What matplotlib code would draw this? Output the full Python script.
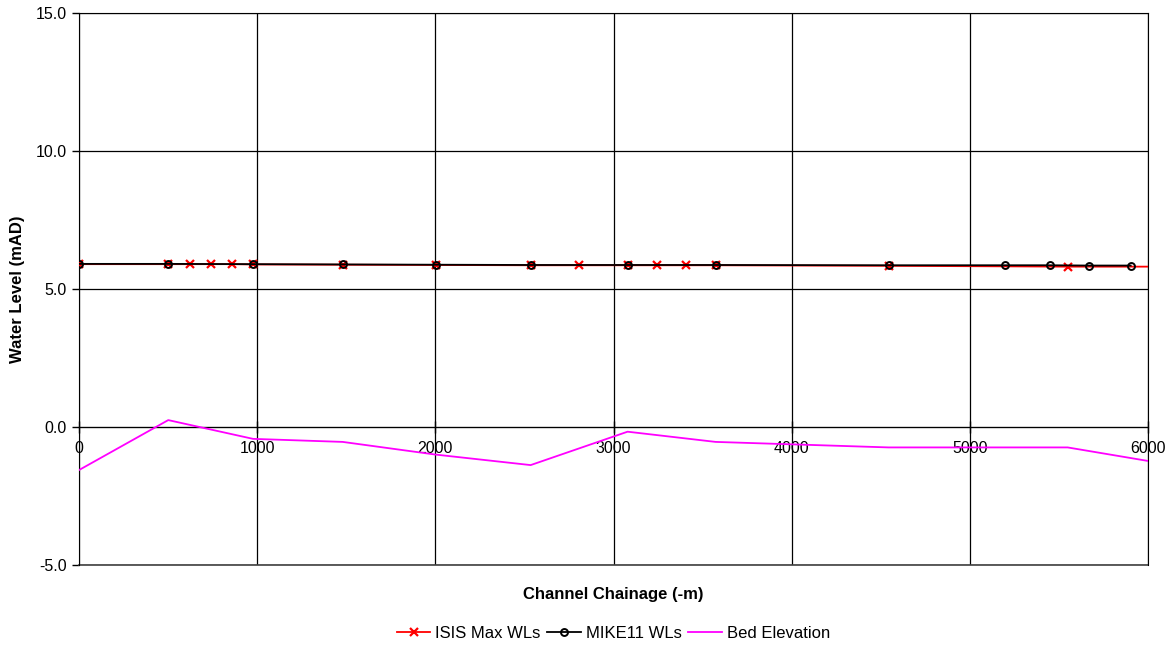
import matplotlib
matplotlib.use('Agg')
import matplotlib.pyplot as plt
from matplotlib.ticker import FormatStrFormatter

plt.rcParams['font.family'] = ['Liberation Sans', 'DejaVu Sans']

# long section data (chainage in m, levels in mAD)
isis_ch = [0, 501, 623, 741, 859, 977, 1480, 2002, 2535, 2808, 3079,
           3244, 3409, 3573, 4544, 5549, 6100]
isis_wl = [5.90, 5.90, 5.90, 5.90, 5.90, 5.89, 5.88, 5.87, 5.86, 5.86, 5.86,
           5.86, 5.86, 5.86, 5.84, 5.81, 5.81]

mike_ch = [0, 501, 977, 1480, 2002, 2535, 3079, 3573, 4544, 5195, 5448,
           5667, 5903]
mike_wl = [5.91, 5.91, 5.90, 5.89, 5.88, 5.87, 5.87, 5.87, 5.86, 5.86, 5.86,
           5.85, 5.85]

bed_ch = [0, 501, 977, 1480, 2002, 2535, 3079, 3573, 4544, 5549, 6000]
bed_z = [-1.56, 0.25, -0.43, -0.54, -1.0, -1.38, -0.17, -0.54, -0.74, -0.74,
         -1.23]

fig = plt.figure(figsize=(11.76, 6.48), dpi=100)
ax = fig.add_axes([79 / 1176, 1 - 565 / 648, (1148 - 79) / 1176, (565 - 13) / 648])

ax.plot(isis_ch, isis_wl, color='red', lw=1.3, marker='x', ms=5.5, mew=1.6,
        label='ISIS Max WLs', zorder=3)
ax.plot(mike_ch, mike_wl, color='black', lw=1.3, marker='o', ms=5,
        mfc='none', mew=1.4, label='MIKE11 WLs', zorder=4)
ax.plot(bed_ch, bed_z, color='#ff00ff', lw=1.3, label='Bed Elevation', zorder=3)

ax.set_xlim(0, 6000)
ax.set_ylim(-5, 15)
ax.set_xticks(range(0, 6001, 1000))
ax.set_yticks([-5, 0, 5, 10, 15])
ax.yaxis.set_major_formatter(FormatStrFormatter('%.1f'))

ax.grid(True, color='black', lw=0.9)
ax.set_axisbelow(True)
# bottom edge of the plot area (the x axis itself sits at zero)
ax.axhline(-5, color='#404040', lw=1.2, clip_on=False, zorder=1)

for side in ['top', 'right']:
    ax.spines[side].set_visible(True)
    ax.spines[side].set_color('black')
ax.spines['bottom'].set_position(('data', 0))
ax.spines['left'].set_color('black')

ax.tick_params(axis='y', direction='out', length=5, width=1, labelsize=11.5, pad=4)
ax.tick_params(axis='x', direction='inout', length=8, width=1, labelsize=11.5, pad=6)

ax.set_xlabel('Channel Chainage (-m)', fontsize=12, fontweight='bold')
ax.xaxis.set_label_coords(0.5, -0.039)
ax.set_ylabel('Water Level (mAD)', fontsize=12, fontweight='bold')
ax.yaxis.set_label_coords(-0.0505, 0.5)

ax.legend(loc='center', bbox_to_anchor=(0.5, (565 - 633) / 552), ncol=3,
          frameon=False, fontsize=12, handlelength=2.0, handletextpad=0.3,
          columnspacing=0.4)

fig.savefig('out.png', dpi=100)
